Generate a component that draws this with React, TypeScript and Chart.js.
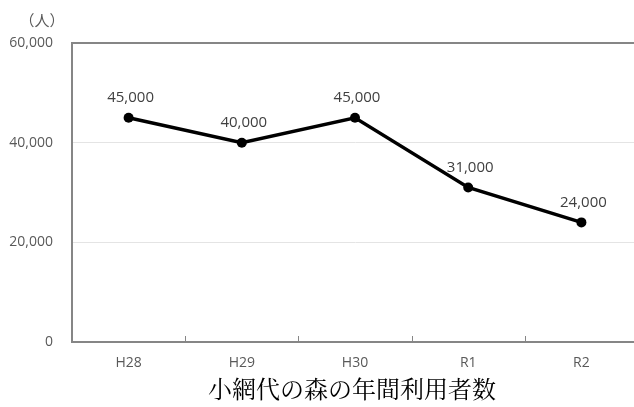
import React, { useEffect, useRef } from 'react';
import { Chart, registerables } from 'chart.js';

Chart.register(...registerables);

const categories = ['H28', 'H29', 'H30', 'R1', 'R2'];
const visitors = [45000, 40000, 45000, 31000, 24000];
const yTicks = [0, 20000, 40000, 60000];
const unitLabel = '（人）';
const chartTitle = '小網代の森の年間利用者数';

const fmt = (v: number) => v.toLocaleString('en-US');
const AXIS = '#868686';
const LABEL_FONT = '"Open Sans", "Noto Sans", sans-serif';

const decorPlugin = {
  id: 'decor',
  afterDatasetsDraw(chart: any) {
    const { ctx, chartArea, scales } = chart;
    const x = scales.x;
    ctx.save();
    // inner tick marks at category boundaries
    ctx.strokeStyle = AXIS;
    ctx.lineWidth = 1;
    for (let i = 1; i < categories.length; i++) {
      const px = Math.round((x.getPixelForValue(i - 1) + x.getPixelForValue(i)) / 2) + 0.5;
      ctx.beginPath();
      ctx.moveTo(px, chartArea.bottom);
      ctx.lineTo(px, chartArea.bottom - 6);
      ctx.stroke();
    }
    // data labels
    const meta = chart.getDatasetMeta(0);
    ctx.font = `15px ${LABEL_FONT}`;
    ctx.fillStyle = '#404040';
    ctx.textAlign = 'center';
    ctx.textBaseline = 'middle';
    meta.data.forEach((pt: any, i: number) => {
      ctx.fillText(fmt(visitors[i]), pt.x + 2, pt.y - 20);
    });
    // unit label
    ctx.font = '15px "Noto Sans CJK JP", sans-serif';
    ctx.fillStyle = '#595959';
    ctx.fillText(unitLabel, 42, 20);
    // title
    ctx.font = '24px "Noto Serif CJK JP", "Noto Sans CJK JP", serif';
    ctx.fillStyle = '#000';
    ctx.fillText(chartTitle, (chartArea.left + chartArea.right) / 2 - 3, 389);
    ctx.restore();
  },
};

export default function App() {
  const ref = useRef<HTMLCanvasElement>(null);

  useEffect(() => {
    if (!ref.current) return;
    const chart = new Chart(ref.current, {
      type: 'line',
      data: {
        labels: categories,
        datasets: [
          {
            data: visitors,
            borderColor: '#000',
            backgroundColor: '#000',
            borderWidth: 3.5,
            pointRadius: 5,
            pointBackgroundColor: '#000',
            pointBorderColor: '#000',
            pointBorderWidth: 0,
            tension: 0,
          },
        ],
      },
      options: {
        animation: false,
        responsive: true,
        maintainAspectRatio: false,
        devicePixelRatio: 1,
        layout: { padding: { left: 0, right: 12, top: 43, bottom: 25 } },
        plugins: {
          legend: { display: false },
          tooltip: { enabled: false },
          title: { display: false },
        },
        scales: {
          x: {
            offset: true,
            grid: { display: false, drawTicks: false },
            border: { display: true, color: AXIS, width: 2 },
            ticks: {
              padding: 13,
              color: '#595959',
              font: { family: LABEL_FONT, size: 14 },
            },
            afterFit: (s: any) => {
              s.height = 40;
            },
          },
          y: {
            min: 0,
            max: 60000,
            afterBuildTicks: (s: any) => {
              s.ticks = yTicks.map((v) => ({ value: v }));
            },
            grid: {
              drawTicks: false,
              color: (c: any) =>
                c.tick && c.tick.value === 60000 ? AXIS : c.tick && c.tick.value === 0 ? 'rgba(0,0,0,0)' : '#e4e4e4',
              lineWidth: (c: any) => (c.tick && c.tick.value === 60000 ? 2 : 1),
            },
            border: { display: true, color: AXIS, width: 2 },
            ticks: {
              padding: 19,
              color: '#595959',
              font: { family: LABEL_FONT, size: 14 },
              callback: (v: any) => fmt(Number(v)),
            },
            afterFit: (s: any) => {
              s.width = 72;
            },
          },
        },
      },
      plugins: [decorPlugin],
    });
    return () => chart.destroy();
  }, []);

  return (
    <div style={{ position: 'fixed', left: 0, top: 0, width: 634, height: 407, overflow: 'hidden', background: '#fff' }}>
      <div style={{ position: 'relative', width: 650, height: 407 }}>
        <canvas ref={ref} />
      </div>
    </div>
  );
}
